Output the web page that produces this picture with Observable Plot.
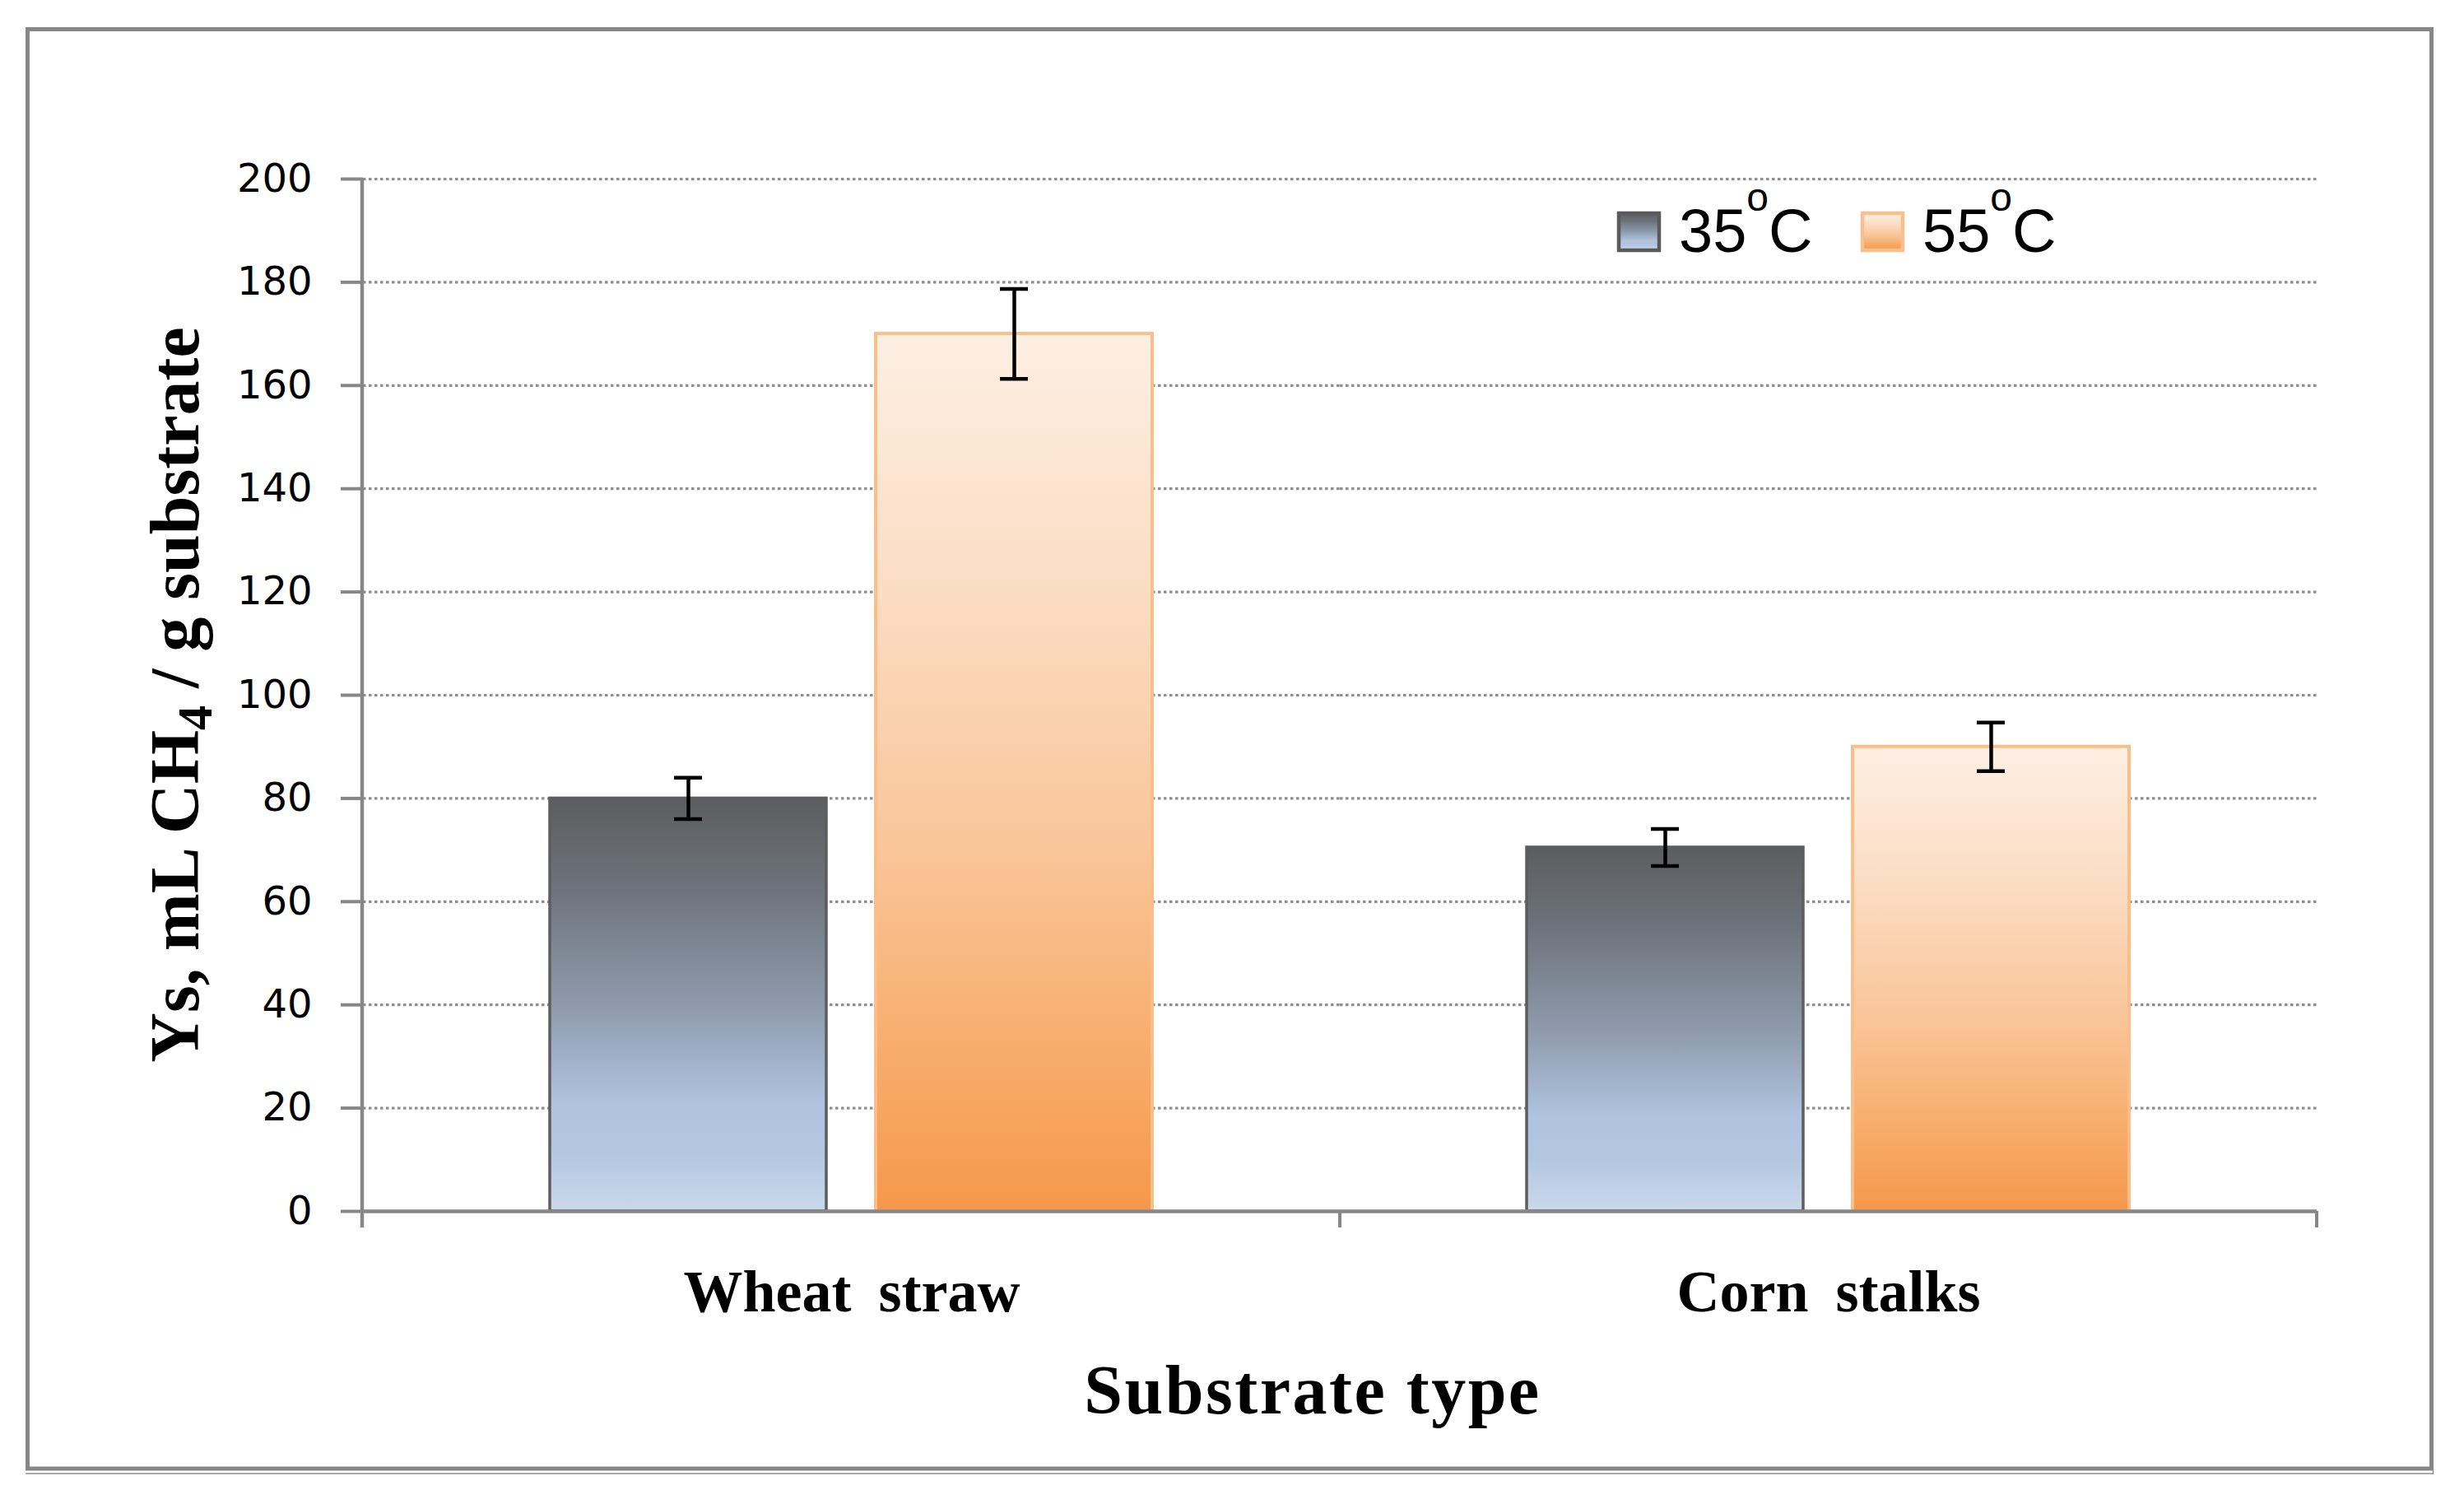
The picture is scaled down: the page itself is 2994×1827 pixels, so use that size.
<!DOCTYPE html>
<html>
<head>
<meta charset="utf-8">
<script src="https://cdn.jsdelivr.net/npm/d3@7"></script>
<script src="https://cdn.jsdelivr.net/npm/@observablehq/plot@0.6"></script>
<style>
  html, body { margin: 0; padding: 0; background: #fff; }
  #chart { position: relative; width: 2994px; height: 1827px; }
</style>
</head>
<body>
<div id="chart"></div>
<script>
// ---- data ----
const substrates = ["Wheat straw", "Corn stalks"];
const temps = ["35°C", "55°C"];
const yield35 = [80, 70.5];
const yield55 = [170, 90];
const err35 = [4, 3.6];
const err55 = [8.7, 4.7];
const yTicks = [0, 20, 40, 60, 80, 100, 120, 140, 160, 180, 200];
const yTitle = ["Ys, mL CH", "4", " / g substrate"];
const xTitle = "Substrate type";

const rows = [];
substrates.forEach((s, i) => {
  rows.push({substrate: s, temp: temps[0], mean: yield35[i], err: err35[i]});
  rows.push({substrate: s, temp: temps[1], mean: yield55[i], err: err55[i]});
});

const W = 2994, H = 1827;
const mL = 440, mR = 2994 - 2815, mT = 217, mB = 1827 - 1471;
const axisGray = "#878787";

const chart = Plot.plot({
  width: W, height: H,
  marginLeft: mL, marginRight: mR, marginTop: mT, marginBottom: mB,
  style: {fontFamily: "DejaVu Sans", background: "transparent", overflow: "visible"},
  fx: {domain: substrates, padding: 0, label: null},
  x: {domain: temps, paddingInner: 0.1515, paddingOuter: 0.571, axis: null},
  y: {domain: [0, 200], label: null, axis: null},
  marks: [
    Plot.gridY(yTicks.filter(d => d > 0), {stroke: "#8e8e8e", strokeOpacity: 1, strokeWidth: 3.2, strokeDasharray: "3.5,3.5"}),
    Plot.barY(rows, {filter: d => d.temp === temps[0], fx: "substrate", x: "temp", y: "mean",
      fill: "url(#g35)", stroke: "#5d5d5d", strokeWidth: 3.5}),
    Plot.barY(rows, {filter: d => d.temp === temps[1], fx: "substrate", x: "temp", y: "mean",
      fill: "url(#g55)", stroke: "#f9be8a", strokeWidth: 4}),
    Plot.ruleX(rows, {fx: "substrate", x: "temp", y1: d => d.mean - d.err, y2: d => d.mean + d.err,
      stroke: "#000", strokeWidth: 4.5}),
    Plot.tickY(rows, {fx: "substrate", x: "temp", y: d => d.mean + d.err, stroke: "#000", strokeWidth: 4.5,
      insetLeft: 151, insetRight: 151}),
    Plot.tickY(rows, {fx: "substrate", x: "temp", y: d => d.mean - d.err, stroke: "#000", strokeWidth: 4.5,
      insetLeft: 151, insetRight: 151}),
    Plot.ruleY([0], {stroke: axisGray, strokeWidth: 4.5}),
    Plot.axisY({ticks: yTicks, tickSize: 27, tickPadding: 35, fontSize: 48, fontFamily: "DejaVu Sans",
      fill: "#000", stroke: axisGray, strokeWidth: 4, label: null, tickFormat: d => String(d)}),
    Plot.axisFx({anchor: "bottom", tickSize: 0, tickPadding: 70, fontSize: 72, fontWeight: "bold",
      fontFamily: "Liberation Serif", fill: "#000", label: null})
  ]
});

document.getElementById("chart").appendChild(chart);

// ---- decorations (gradients, axis lines, titles, legend, frame) ----
const svg = d3.select(chart);
svg.selectAll('g[aria-label="fx-axis tick label"] text').style("word-spacing", "15px");

const defs = svg.insert("defs", ":first-child");
const g35 = defs.append("linearGradient").attr("id", "g35").attr("x1", 0).attr("y1", 0).attr("x2", 0).attr("y2", 1);
[["0%", "#5c5d5f"], ["22%", "#6d737c"], ["50%", "#8e9aab"], ["74%", "#afc3df"], ["86%", "#b4c7e1"], ["100%", "#cad9eb"]]
  .forEach(([o, c]) => g35.append("stop").attr("offset", o).attr("stop-color", c));
const g55 = defs.append("linearGradient").attr("id", "g55").attr("x1", 0).attr("y1", 0).attr("x2", 0).attr("y2", 1);
[["0%", "#fdefe3"], ["30%", "#fbdcc2"], ["60%", "#f9c497"], ["85%", "#f7a965"], ["100%", "#f6984b"]]
  .forEach(([o, c]) => g55.append("stop").attr("offset", o).attr("stop-color", c));

const yS = chart.scale("y");
const fxS = chart.scale("fx");
const y0 = yS.apply(0), yTop = yS.apply(200);
const deco = svg.append("g").attr("text-anchor", "start");

// y axis line
deco.append("line").attr("x1", mL).attr("x2", mL).attr("y1", yTop).attr("y2", y0 + 20)
  .attr("stroke", axisGray).attr("stroke-width", 4.5);
// category boundary ticks
const bounds = substrates.map(s => fxS.apply(s) + fxS.bandwidth);
bounds.forEach(bx => deco.append("line").attr("x1", bx).attr("x2", bx).attr("y1", y0).attr("y2", y0 + 20)
  .attr("stroke", axisGray).attr("stroke-width", 4));

// x title
deco.append("text").attr("x", 1595).attr("y", 1717).attr("text-anchor", "middle")
  .attr("font-family", "Liberation Serif").attr("font-weight", "bold").attr("font-size", 84)
  .attr("letter-spacing", 2.5).attr("fill", "#000").text(xTitle);

// y title with subscript
const yt = deco.append("text").attr("transform", `translate(241,${(yTop + y0) / 2}) rotate(-90)`)
  .attr("text-anchor", "middle").attr("font-family", "Liberation Serif").attr("font-weight", "bold")
  .attr("font-size", 84).attr("fill", "#000");
yt.append("tspan").text(yTitle[0]);
yt.append("tspan").attr("font-size", 60).attr("dy", 16).text(yTitle[1]);
yt.append("tspan").attr("dy", -16).text(yTitle[2]);

// legend
const legendSwatch = [{fill: "url(#g35)", stroke: "#5a5a5a"}, {fill: "url(#g55)", stroke: "#f9c08e"}];
temps.forEach((t, i) => {
  const lx = 1965 + i * 296;
  deco.append("rect").attr("x", lx + 2).attr("y", 259).attr("width", 49).attr("height", 45)
    .attr("fill", legendSwatch[i].fill).attr("stroke", legendSwatch[i].stroke).attr("stroke-width", 4.5);
  const num = t.replace("°C", "");
  const tx = deco.append("text").attr("x", lx + 75).attr("y", 306).attr("text-anchor", "start")
    .attr("font-family", "Liberation Sans").attr("font-size", 74).attr("fill", "#000");
  tx.append("tspan").text(num);
  tx.append("tspan").attr("font-size", 48).attr("dy", -50).text("o");
  tx.append("tspan").attr("dy", 50).text("C");
});

// outer frame
deco.append("rect").attr("x", 33.5).attr("y", 35.5).attr("width", 2921).attr("height", 1748.5)
  .attr("fill", "none").attr("stroke", "#878787").attr("stroke-width", 5);
deco.append("line").attr("x1", 31).attr("x2", 2957).attr("y1", 1790).attr("y2", 1790)
  .attr("stroke", "#8f8f8f").attr("stroke-width", 1.5);
deco.append("line").attr("x1", 2956.5).attr("x2", 2956.5).attr("y1", 1784).attr("y2", 1791)
  .attr("stroke", "#8f8f8f").attr("stroke-width", 1.5);
</script>
</body>
</html>
